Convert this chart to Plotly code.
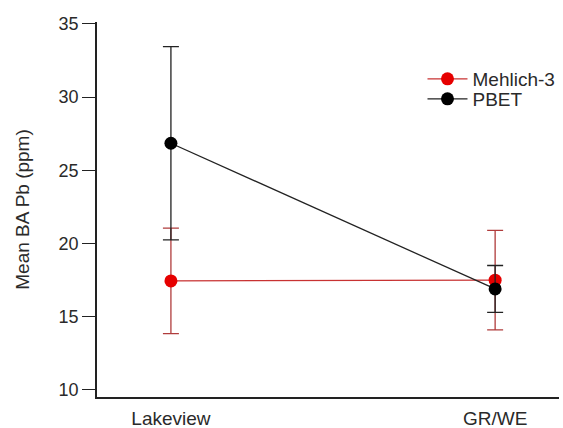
import plotly.graph_objects as go

categories = ["Lakeview", "GR/WE"]
mehlich_mean = [17.45, 17.5]
mehlich_err = [3.6, 3.4]
pbet_mean = [26.85, 16.9]
pbet_err = [6.6, 1.6]
y_ticks = [10, 15, 20, 25, 30, 35]

xpos = list(range(len(categories)))
FONT = "Arial, Liberation Sans, sans-serif"
TXT = "#2a2a2a"

fig = go.Figure()
fig.add_trace(go.Scatter(
    x=xpos, y=mehlich_mean, name="Mehlich-3", mode="lines+markers",
    legend="legend",
    line=dict(color="#c83232", width=1.3),
    marker=dict(color="#e60000", size=13),
    error_y=dict(type="data", array=mehlich_err, visible=True,
                 color="#b03c3c", thickness=1.3, width=8),
))
fig.add_trace(go.Scatter(
    x=xpos, y=pbet_mean, name="PBET", mode="lines+markers",
    legend="legend2",
    line=dict(color="#222222", width=1.3),
    marker=dict(color="#000000", size=13),
    error_y=dict(type="data", array=pbet_err, visible=True,
                 color="#222222", thickness=1.3, width=8),
))

leg_common = dict(xanchor="left", yanchor="middle",
                  font=dict(size=19, color=TXT),
                  bgcolor="rgba(0,0,0,0)", itemwidth=40)

fig.update_layout(
    width=563, height=428,
    margin=dict(l=97, r=3, t=22, b=31),
    paper_bgcolor="white", plot_bgcolor="white",
    font=dict(family=FONT, size=18, color=TXT),
    showlegend=True,
    legend=dict(x=0.703, y=(397 - 79) / 375, **leg_common),
    legend2=dict(x=0.703, y=(397 - 99) / 375, **leg_common),
    xaxis=dict(range=[-0.228, 1.197], tickvals=xpos, ticktext=categories,
               tickfont=dict(size=19), automargin=False,
               showgrid=False, zeroline=False, showline=True,
               linecolor="#222222", linewidth=1.5, ticks="",
               ticklabelstandoff=3),
    yaxis=dict(range=[9.52, 35.13], tickvals=y_ticks, automargin=False,
               showgrid=False, zeroline=False, showline=True,
               linecolor="#222222", linewidth=1.5,
               ticks="outside", ticklen=13, tickcolor="#222222", tickwidth=1.3,
               title=dict(text="Mean BA Pb (ppm)", font=dict(size=19), standoff=24)),
)

fig.write_html("out.html", config={"displayModeBar": False},
               post_script="document.body.style.margin='0';")
